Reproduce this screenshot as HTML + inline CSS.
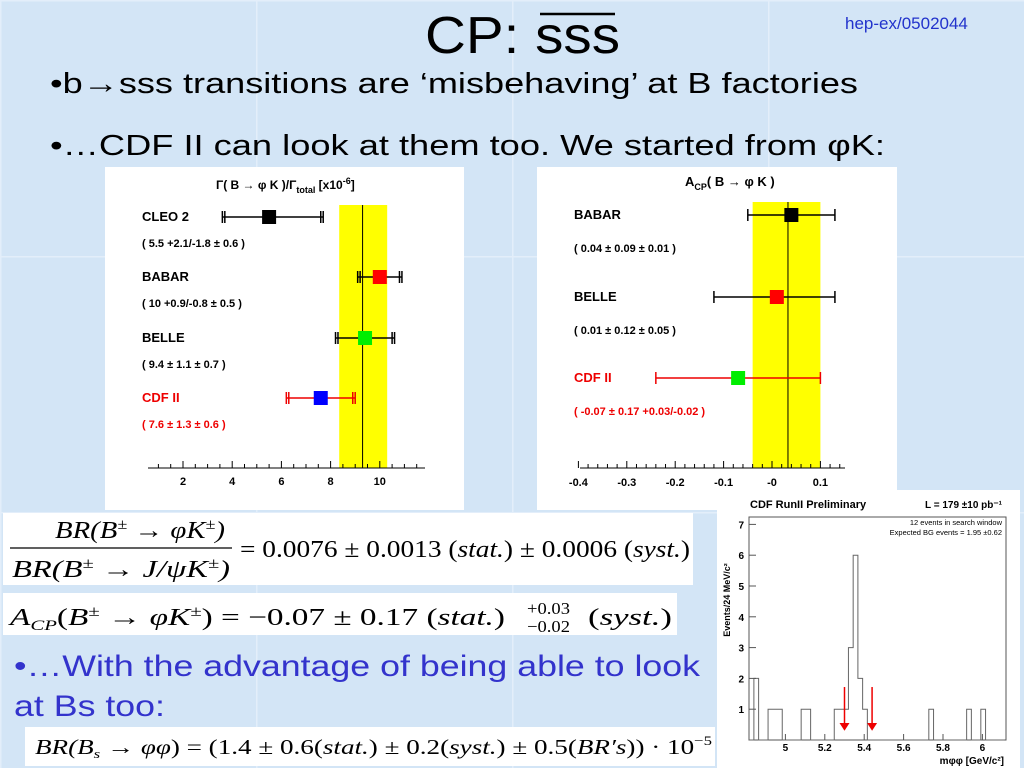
<!DOCTYPE html>
<html><head><meta charset="utf-8"><style>
html,body{margin:0;padding:0;width:1024px;height:768px;overflow:hidden;background:#d3e5f6;}
svg{display:block}
.s{font-family:"Liberation Sans",sans-serif}
.m{font-family:"Liberation Serif",serif}
</style></head><body>
<svg id="root" width="1024" height="768" xmlns="http://www.w3.org/2000/svg">
<defs><pattern id="tile" width="256" height="256" patternUnits="userSpaceOnUse"><rect width="256" height="256" fill="#d3e5f6"/><path d="M0 0H256M0 0V256" stroke="#e3eefa" stroke-width="3"/></pattern></defs>
<rect width="1024" height="768" fill="url(#tile)"/>
<g class="s">
<text x="425" y="53" font-size="52" textLength="195" lengthAdjust="spacingAndGlyphs">CP: sss</text>
<line x1="540" y1="14" x2="615" y2="14" stroke="#000" stroke-width="2.5"/>
<text x="845" y="29" font-size="17" fill="#2233cc">hep-ex/0502044</text>
<text x="50" y="93" font-size="29" textLength="808" lengthAdjust="spacingAndGlyphs">•b→sss transitions are ‘misbehaving’ at B factories</text>
<text x="50" y="155" font-size="29" textLength="835" lengthAdjust="spacingAndGlyphs">•…CDF II can look at them too. We started from φK:</text>
<text x="14" y="676" font-size="30" fill="#3333cc" textLength="686" lengthAdjust="spacingAndGlyphs">•…With the advantage of being able to look</text>
<text x="14" y="716" font-size="30" fill="#3333cc" textLength="151" lengthAdjust="spacingAndGlyphs">at Bs too:</text>
</g>
<!-- formula boxes -->
<g class="m" font-style="italic">
<rect x="3" y="513" width="690" height="72" fill="#fff"/>
<text x="55" y="538" font-size="24" textLength="170" lengthAdjust="spacingAndGlyphs">BR(B<tspan font-size="15" dy="-9">±</tspan><tspan dy="9"> → φK</tspan><tspan font-size="15" dy="-9">±</tspan><tspan dy="9">)</tspan></text>
<line x1="10" y1="548" x2="232" y2="548" stroke="#000" stroke-width="1.3"/>
<text x="12" y="577" font-size="24" textLength="218" lengthAdjust="spacingAndGlyphs">BR(B<tspan font-size="15" dy="-9">±</tspan><tspan dy="9"> → J/ψK</tspan><tspan font-size="15" dy="-9">±</tspan><tspan dy="9">)</tspan></text>
<text x="240" y="557" font-size="24" textLength="450" lengthAdjust="spacingAndGlyphs"><tspan font-style="normal">= 0.0076 ± 0.0013 (</tspan>stat.<tspan font-style="normal">) ± 0.0006 (</tspan>syst.<tspan font-style="normal">)</tspan></text>
<rect x="3" y="593" width="674" height="42" fill="#fff"/>
<text x="10" y="625" font-size="24" textLength="495" lengthAdjust="spacingAndGlyphs">A<tspan font-size="15" dy="5">CP</tspan><tspan dy="-5" font-style="normal">(</tspan>B<tspan font-size="15" dy="-9">±</tspan><tspan dy="9" font-style="normal"> → </tspan>φK<tspan font-size="15" dy="-9">±</tspan><tspan dy="9" font-style="normal">) = −0.07 ± 0.17 (</tspan>stat.<tspan font-style="normal">)</tspan></text>
<text x="527" y="614" font-size="17" font-style="normal" textLength="43" lengthAdjust="spacingAndGlyphs">+0.03</text>
<text x="527" y="632" font-size="17" font-style="normal" textLength="43" lengthAdjust="spacingAndGlyphs">−0.02</text>
<text x="588" y="625" font-size="24" textLength="84" lengthAdjust="spacingAndGlyphs"><tspan font-style="normal">(</tspan>syst.<tspan font-style="normal">)</tspan></text>
<rect x="25" y="727" width="690" height="39" fill="#fff"/>
<text x="35" y="754" font-size="21" textLength="677" lengthAdjust="spacingAndGlyphs">BR(B<tspan font-size="13" dy="4">s</tspan><tspan dy="-4" font-style="normal"> → </tspan>φφ<tspan font-style="normal">) = (1.4 ± 0.6(</tspan>stat.<tspan font-style="normal">) ± 0.2(</tspan>syst.<tspan font-style="normal">) ± 0.5(</tspan>BR′s<tspan font-style="normal">)) · 10</tspan><tspan font-size="13" dy="-9" font-style="normal">−5</tspan></text>
</g>
<!-- panels -->
<rect x="105" y="167" width="359" height="343" fill="#fff"/>
<rect x="537" y="167" width="360" height="343" fill="#fff"/>
<rect x="717" y="490" width="303" height="278" fill="#fff"/>
<g id="brChart" class="s" font-weight="bold"></g>
<g id="acpChart" class="s" font-weight="bold"></g>
<g id="histChart" class="s"></g>
</svg>
<script>
const NS='http://www.w3.org/2000/svg';
function mk(p,tag,a,txt){const e=document.createElementNS(NS,tag);for(const k in a)e.setAttribute(k,a[k]);if(txt!=null)e.textContent=txt;p.appendChild(e);return e;}

// ---- BR chart data ----
const brExperiments=['CLEO 2','BABAR','BELLE','CDF II'];
const brValues=[5.5,10,9.4,7.6];
const brLow=[3.7,9.2,8.3,6.3];
const brHigh=[7.7,10.9,10.6,9.0];
const brTotLow=[3.6,9.1,8.2,6.2];
const brTotHigh=[7.6,10.8,10.5,8.9];
const brLabels=['( 5.5 +2.1/-1.8 ± 0.6 )','( 10 +0.9/-0.8 ± 0.5 )','( 9.4 ± 1.1 ± 0.7 )','( 7.6 ± 1.3 ± 0.6 )'];
const brColors=['#000','#f00','#0e0','#00f'];
const brTicks=[2,4,6,8,10];
const brAvg=[8.35,9.3,10.3];

// ---- ACP chart data ----
const acpExperiments=['BABAR','BELLE','CDF II'];
const acpValues=[0.04,0.01,-0.07];
const acpLow=[-0.05,-0.12,-0.24];
const acpHigh=[0.13,0.13,0.10];
const acpLabels=['( 0.04 ± 0.09 ± 0.01 )','( 0.01 ± 0.12 ± 0.05 )','( -0.07 ± 0.17 +0.03/-0.02 )'];
const acpColors=['#000','#f00','#0e0'];
const acpTicks=[-0.4,-0.3,-0.2,-0.1,0,0.1];
const acpTickLabels=['-0.4','-0.3','-0.2','-0.1','-0','0.1'];
const acpAvg=[-0.04,0.033,0.10];

// ---- histogram data ----
const binStart=4.816, binWidth=0.024;
const binCounts=[0,2,0,0,1,1,1,0,0,0,0,1,1,0,0,0,0,0,1,1,1,3,6,2,1,0,0,0,0,0,0,0,0,0,0,0,0,0,1,0,0,0,0,0,0,0,1,0,0,1,0,0,0,0];
const histXTicks=[5,5.2,5.4,5.6,5.8,6];
const histYTicks=[1,2,3,4,5,6,7];
const windowArrows=[5.30,5.44];

// BR chart
(function(){
 const g=document.getElementById('brChart');
 const x=v=>133.8+v*24.6; const rowY=[217,277,338,398];
 const t=mk(g,'text',{x:216,y:189,'font-size':12,},'Γ( B → φ K )/Γ');
 mk(t,'tspan',{'font-size':9,dy:4},'total');
 mk(t,'tspan',{dy:-4},' [x10');
 mk(t,'tspan',{'font-size':9,dy:-5},'-6');
 mk(t,'tspan',{dy:5},']');
 const band=mk(g,'rect',{x:x(brAvg[0]),y:205,width:x(brAvg[2])-x(brAvg[0]),height:263,fill:'#ffff00'});
 
 const al=mk(g,'line',{x1:x(brAvg[1]),x2:x(brAvg[1]),y1:205,y2:468,stroke:'#000'});
 
 mk(g,'line',{x1:148,x2:425,y1:468,y2:468,stroke:'#000'});
 for(let v=1;v<=11.6;v+=0.5){mk(g,'line',{x1:x(v),x2:x(v),y1:468,y2:Number.isInteger(v)&&v%2==0?461:464,stroke:'#000'});}
 brTicks.forEach(t=>{const e=mk(g,'text',{x:x(t),y:485,'font-size':11,'text-anchor':'middle'},String(t));});
 brExperiments.forEach((n,i)=>{
  const y=rowY[i], red=i==3, c=red?'#e00':'#000';
  const lab=mk(g,'text',{x:142,y:y+4,'font-size':13,fill:red?'#e00':'#000'},n);
  
  const vl=mk(g,'text',{x:142,y:y+30,'font-size':11,fill:red?'#e00':'#000'},brLabels[i]);
  
  const eb=mk(g,'line',{x1:x(brTotLow[i]),x2:x(brHigh[i]),y1:y,y2:y,stroke:c,'stroke-width':1.5});
  
  [brLow[i],brTotLow[i],brHigh[i],brTotHigh[i]].forEach(v=>mk(g,'line',{x1:x(v),x2:x(v),y1:y-6,y2:y+6,stroke:c,'stroke-width':1.5}));
  const sq=mk(g,'rect',{x:x(brValues[i])-7,y:y-7,width:14,height:14,fill:brColors[i]});
  
 });
})();

// ACP chart
(function(){
 const g=document.getElementById('acpChart');
 const x=v=>772+v*484; const rowY=[215,297,378];
 const t=mk(g,'text',{x:685,y:186,'font-size':13,},'A');
 mk(t,'tspan',{'font-size':9,dy:4},'CP');
 mk(t,'tspan',{dy:-4},'( B → φ K )');
 const band=mk(g,'rect',{x:x(acpAvg[0]),y:202,width:x(acpAvg[2])-x(acpAvg[0]),height:266,fill:'#ffff00'});
 
 const al=mk(g,'line',{x1:x(acpAvg[1]),x2:x(acpAvg[1]),y1:202,y2:468,stroke:'#000'});
 
 mk(g,'line',{x1:580,x2:845,y1:468,y2:468,stroke:'#000'});
 for(let k=-40;k<=15;k+=2){const v=k/100;mk(g,'line',{x1:x(v),x2:x(v),y1:468,y2:k%10==0?461:464,stroke:'#000'});}
 acpTicks.forEach((t,i)=>{const e=mk(g,'text',{x:x(t),y:486,'font-size':11,'text-anchor':'middle'},acpTickLabels[i]);});
 acpExperiments.forEach((n,i)=>{
  const y=rowY[i], red=i==2, c=red?'#e00':'#000';
  const lab=mk(g,'text',{x:574,y:y+4,'font-size':13,fill:c},n);
  
  const vl=mk(g,'text',{x:574,y:y+37,'font-size':11,fill:c},acpLabels[i]);
  
  const eb=mk(g,'line',{x1:x(acpLow[i]),x2:x(acpHigh[i]),y1:y,y2:y,stroke:c,'stroke-width':1.5});
  
  [acpLow[i],acpHigh[i]].forEach(v=>mk(g,'line',{x1:x(v),x2:x(v),y1:y-6,y2:y+6,stroke:c,'stroke-width':1.5}));
  const sq=mk(g,'rect',{x:x(acpValues[i])-7,y:y-7,width:14,height:14,fill:acpColors[i]});
  
 });
})();

// Histogram
(function(){
 const g=document.getElementById('histChart');
 const x=v=>746+(v-4.8)*197, y=v=>740-v*30.8;
 mk(g,'rect',{x:749,y:517,width:257,height:223,fill:'none',stroke:'#555','stroke-width':1,});
 let d='M'+x(binStart)+' '+y(0);
 binCounts.forEach((c,i)=>{const a=binStart+i*binWidth;d+=' L'+x(a)+' '+y(c)+' L'+x(a+binWidth)+' '+y(c);});
 d+=' L'+x(binStart+binCounts.length*binWidth)+' '+y(0);
 const p=mk(g,'path',{d:d,fill:'none',stroke:'#666','stroke-width':1});
 
 histYTicks.forEach(t=>{mk(g,'line',{x1:749,x2:756,y1:y(t),y2:y(t),stroke:'#555'});
  const e=mk(g,'text',{x:744,y:y(t)+4,'font-size':10,'font-weight':'bold','text-anchor':'end'},String(t));
  });
 histXTicks.forEach(t=>{mk(g,'line',{x1:x(t),x2:x(t),y1:740,y2:734,stroke:'#555'});
  const e=mk(g,'text',{x:x(t),y:751,'font-size':10,'font-weight':'bold','text-anchor':'middle'},String(t));
  });
 windowArrows.forEach(v=>{
  const a=mk(g,'line',{x1:x(v),x2:x(v),y1:y(1.72),y2:y(0.5),stroke:'#e00','stroke-width':1.5});
  
  mk(g,'path',{d:`M${x(v)-5} ${y(0.55)} L${x(v)+5} ${y(0.55)} L${x(v)} ${y(0.3)} Z`,fill:'#e00'});
 });
 mk(g,'text',{x:750,y:508,'font-size':11,'font-weight':'bold',},'CDF RunII Preliminary');
 mk(g,'text',{x:925,y:508,'font-size':10,'font-weight':'bold',},'L = 179 ±10 pb⁻¹');
 mk(g,'text',{x:1002,y:525,'font-size':7.5,'text-anchor':'end',},'12 events in search window');
 mk(g,'text',{x:1002,y:535,'font-size':7.5,'text-anchor':'end',},'Expected BG events = 1.95 ±0.62');
 mk(g,'text',{x:730,y:600,'font-size':9,'font-weight':'bold','text-anchor':'middle',transform:'rotate(-90 730 600)',},'Events/24 MeV/c²');
 mk(g,'text',{x:1004,y:764,'font-size':10,'font-weight':'bold','text-anchor':'end',},'mφφ [GeV/c²]');
})();
</script>
</body></html>
